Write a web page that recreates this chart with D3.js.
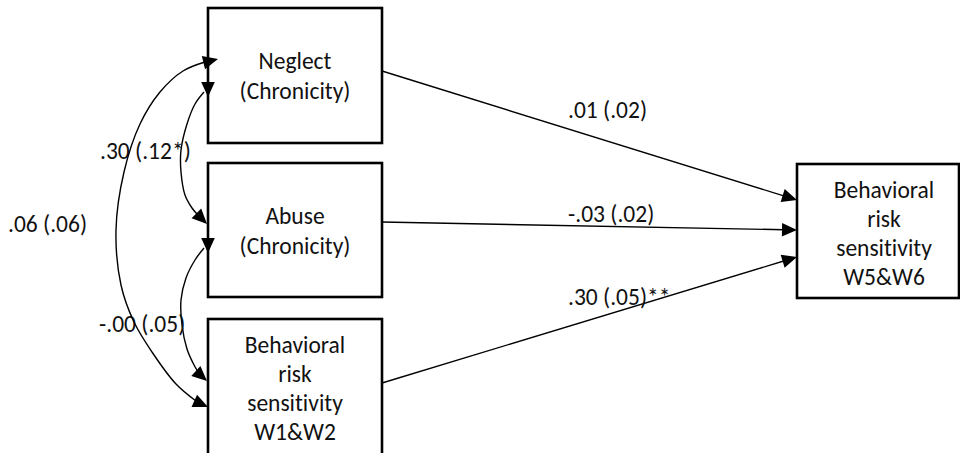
<!DOCTYPE html>
<html>
<head>
<meta charset="utf-8">
<script src="https://cdn.jsdelivr.net/npm/d3@7"></script>
<style>
  html, body { margin: 0; padding: 0; background: #fff; }
  svg { display: block; }
  text { font-family: Carlito, Lato, "Open Sans", sans-serif; fill: #111; font-variant-ligatures: none; }
</style>
</head>
<body>
<svg id="chart" width="960" height="453"></svg>
<script>
// Path model: observed variables
const nodeIds    = ["neglect", "abuse", "brs12", "brs56"];
const nodeLines  = [
  ["Neglect", "(Chronicity)"],
  ["Abuse", "(Chronicity)"],
  ["Behavioral", "risk", "sensitivity", "W1&W2"],
  ["Behavioral", "risk", "sensitivity", "W5&W6"]
];

// Regression paths (standardised estimate with SE)
const pathFrom   = ["neglect", "abuse", "brs12"];
const pathTo     = ["brs56", "brs56", "brs56"];
const pathLabels = [".01 (.02)", "-.03 (.02)", ".30 (.05)**"];

// Covariances among the predictors
const covFrom    = ["neglect", "abuse", "neglect"];
const covTo      = ["abuse", "brs12", "brs12"];
const covLabels  = [".30 (.12*)", "-.00 (.05)", ".06 (.06)"];

// ---- layout ----
const FONT = 23.5;
const svg = d3.select("#chart");
const boxX   = d3.scaleOrdinal().domain(nodeIds).range([208, 208, 208, 797]);
const boxTop = d3.scaleOrdinal().domain(nodeIds).range([8, 163, 319, 164]);
const boxW   = d3.scaleOrdinal().domain(nodeIds).range([174, 174, 174, 162]);
const boxH   = d3.scaleOrdinal().domain(nodeIds).range([135, 134, 160, 134]);
const textCx = d3.scaleOrdinal().domain(nodeIds).range([295, 295, 295, 884]);

// connector anchor points on the boxes (exit on right side, tip on target)
const pathStart = { neglect: [382, 71], abuse: [382, 222], brs12: [382, 383] };
const pathTip   = [[797, 200], [797, 230], [797, 257]];

const AH_LEN = 15, AH_HALF = 6.8;
function arrowHead(tip, angleDeg) {
  const a = angleDeg * Math.PI / 180;
  const ux = Math.cos(a), uy = Math.sin(a);
  const bx = tip[0] - ux * AH_LEN, by = tip[1] - uy * AH_LEN;
  const p = d3.path();
  p.moveTo(tip[0], tip[1]);
  p.lineTo(bx - uy * AH_HALF, by + ux * AH_HALF);
  p.lineTo(bx + uy * AH_HALF, by - ux * AH_HALF);
  p.closePath();
  return p.toString();
}

// ---- boxes ----
const g = svg.append("g");
nodeIds.forEach((id, i) => {
  g.append("rect")
    .attr("x", boxX(id)).attr("y", boxTop(id))
    .attr("width", boxW(id)).attr("height", boxH(id))
    .attr("fill", "#fff").attr("stroke", "#000").attr("stroke-width", 2.6);
  const lines = nodeLines[i];
  const first = lines.length === 2 ? 61 : 34;
  const step = lines.length === 2 ? 30 : 29;
  g.append("text")
    .attr("text-anchor", "middle")
    .attr("font-size", FONT)
    .selectAll("tspan").data(lines).join("tspan")
    .attr("x", textCx(id))
    .attr("y", (d, k) => boxTop(id) + first + k * step)
    .text(d => d);
});

// ---- regression paths ----
const pathLabelPos = [[568, 118], [568, 222], [568, 305]];
pathFrom.forEach((from, i) => {
  const s = pathStart[from], t = pathTip[i];
  const ang = Math.atan2(t[1] - s[1], t[0] - s[0]);
  const end = [t[0] - Math.cos(ang) * (AH_LEN - 2), t[1] - Math.sin(ang) * (AH_LEN - 2)];
  g.append("path")
    .attr("d", d3.line()([s, end]))
    .attr("stroke", "#000").attr("stroke-width", 1.4).attr("fill", "none");
  g.append("path")
    .attr("d", arrowHead(t, ang * 180 / Math.PI))
    .attr("fill", "#000");
  g.append("text")
    .attr("x", pathLabelPos[i][0]).attr("y", pathLabelPos[i][1])
    .attr("font-size", FONT)
    .text(pathLabels[i]);
});

// ---- covariance arcs (double-headed) ----
const covRoutes = [
  [[204, 92], [195, 104], [187, 124], [181, 150], [181, 172], [185, 195], [192, 208], [198, 215]],
  [[204, 248], [195, 260], [186, 278], [181, 300], [182, 325], [187, 349], [193, 363], [198, 372]],
  [[205, 62], [183, 71], [160, 92], [140, 124], [124, 172], [116, 230], [121, 285], [134, 322], [152, 352], [176, 384], [196, 401]]
];
const covTips = [
  [[208, 97, 90], [207, 224, 45]],
  [[208, 253, 90], [207, 381, 42]],
  [[218, 59, -14], [208, 407, 24]]
];
const covLabelPos = [[100, 159], [99, 332], [8, 232]];
const curve = d3.line().curve(d3.curveCatmullRom.alpha(0.5));
covFrom.forEach((from, i) => {
  g.append("path")
    .attr("d", curve(covRoutes[i]))
    .attr("stroke", "#000").attr("stroke-width", 1.4).attr("fill", "none");
  covTips[i].forEach(tp => {
    g.append("path").attr("d", arrowHead([tp[0], tp[1]], tp[2])).attr("fill", "#000");
  });
  g.append("text")
    .attr("x", covLabelPos[i][0]).attr("y", covLabelPos[i][1])
    .attr("font-size", FONT)
    .text(covLabels[i]);
});
</script>
</body>
</html>
